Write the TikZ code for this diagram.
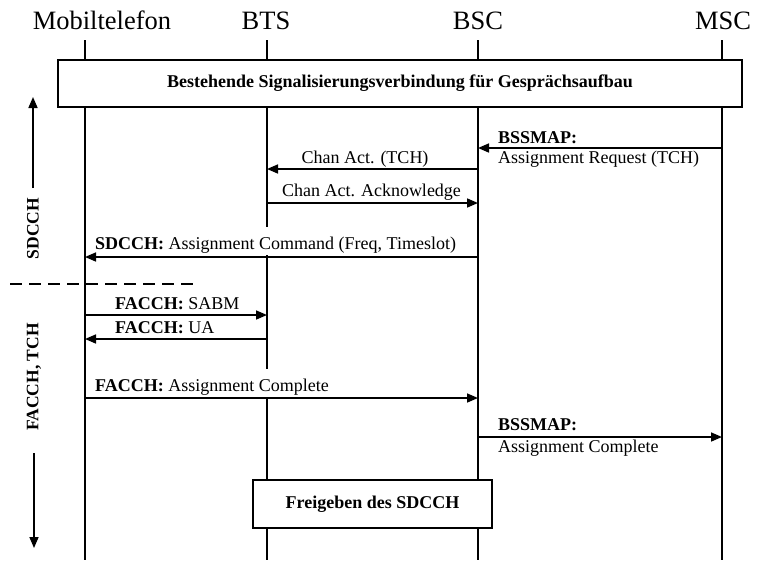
\documentclass[tikz,border=0pt]{standalone}
\usepackage{fontspec}
\setmainfont{Liberation Serif}
\usetikzlibrary{arrows.meta}
\begin{document}
\begin{tikzpicture}[x=1pt,y=-1pt,
  lifeline/.style={line width=1.8pt},
  msg/.style={line width=1.6pt,-{Triangle[length=11pt,width=9pt]}},
  axis/.style={line width=1.6pt,-{Triangle[length=11pt,width=9pt]}},
  head/.style={font=\fontsize{26.5}{30}\selectfont, anchor=base, inner sep=0pt},
  lbl/.style={font=\fontsize{18}{20}\selectfont, inner sep=0pt},
  cover/.style={lbl, fill=white, text height=22pt, text depth=6pt, inner xsep=3pt},
  bar/.style={draw, line width=1.8pt, fill=white, inner sep=0pt,
    font=\fontsize{18}{20}\selectfont\bfseries},
  phase/.style={font=\fontsize{17.5}{20}\selectfont\bfseries, rotate=90, inner sep=0pt},
  sep/.style={line width=1.6pt, dash pattern=on 12pt off 7pt}
]
\useasboundingbox (0,0) rectangle (760,560);
\fill[white] (0,0) rectangle (760,560);

% entity headings
\node[head] (hmob) at (102,29.5) {Mobiltelefon};
\node[head] (hbts) at (266,29.5) {BTS};
\node[head] (hbsc) at (478,29.5) {BSC};
\node[head] (hmsc) at (723,29.5) {MSC};

% lifelines
\coordinate (mob) at (85,40);  \coordinate (mobend) at (85,560);
\coordinate (bts) at (267,40); \coordinate (btsend) at (267,560);
\coordinate (bsc) at (478,40); \coordinate (bscend) at (478,560);
\coordinate (msc) at (722,40); \coordinate (mscend) at (722,560);
\draw[lifeline] (mob) -- (mobend);
\draw[lifeline] (bts) -- (btsend);
\draw[lifeline] (bsc) -- (bscend);
\draw[lifeline] (msc) -- (mscend);

% boxes spanning lifelines
\node[bar, minimum width=684pt, minimum height=47pt] (setup) at (400,83.5)
  {Bestehende Signalisierungsverbindung für Gesprächsaufbau};
\node[bar, minimum width=239pt, minimum height=48pt] (release) at (372.5,504)
  {Freigeben des SDCCH};

% message rows
\coordinate (r1) at (0,148);
\coordinate (r2) at (0,169);
\coordinate (r3) at (0,203);
\coordinate (r4) at (0,257);
\coordinate (r5) at (0,315);
\coordinate (r6) at (0,339);
\coordinate (r7) at (0,398);
\coordinate (r8) at (0,437);

% message labels
\node[lbl, anchor=base west] (l1a) at (498,143) {\textbf{BSSMAP:}};
\node[lbl, anchor=base west] (l1b) at (498,163) {Assignment Request (TCH)};
\node[lbl, anchor=base] (l2) at (365,163) {Chan Act. (TCH)};
\node[lbl, anchor=base] (l3) at (371.5,196) {Chan Act. Acknowledge};
\node[cover, anchor=base west] (l4) at (92,249)
  {\textbf{SDCCH:} Assignment Command (Freq, Timeslot)};
\node[lbl, anchor=base west] (l5) at (115,309) {\textbf{FACCH:} SABM};
\node[lbl, anchor=base west] (l6) at (115,333) {\textbf{FACCH:} UA};
\node[cover, anchor=base west] (l7) at (92,391)
  {\textbf{FACCH:} Assignment Complete};
\node[lbl, anchor=base west] (l8a) at (498,430) {\textbf{BSSMAP:}};
\node[lbl, anchor=base west] (l8b) at (498,452) {Assignment Complete};

% messages
\draw[msg] (msc |- r1) -- (bsc |- r1);
\draw[msg] (bsc |- r2) -- (bts |- r2);
\draw[msg] (bts |- r3) -- (bsc |- r3);
\draw[msg] (bsc |- r4) -- (mob |- r4);
\draw[msg] (mob |- r5) -- (bts |- r5);
\draw[msg] (bts |- r6) -- (mob |- r6);
\draw[msg] (mob |- r7) -- (bsc |- r7);
\draw[msg] (bsc |- r8) -- (msc |- r8);

% channel phases on the left
\coordinate (sepA) at (10,284);
\coordinate (sepB) at (197,284);
\draw[sep] (sepA) -- (sepB);
\node[phase] (sdcch) at (33,228.5) {SDCCH};
\node[phase] (facch) at (34,377) {FACCH, TCH};
\coordinate (upfrom) at (33,188); \coordinate (uptip) at (33,97);
\coordinate (dnfrom) at (34,453); \coordinate (dntip) at (34,548);
\draw[axis] (upfrom) -- (uptip);
\draw[axis] (dnfrom) -- (dntip);
\end{tikzpicture}
\end{document}
